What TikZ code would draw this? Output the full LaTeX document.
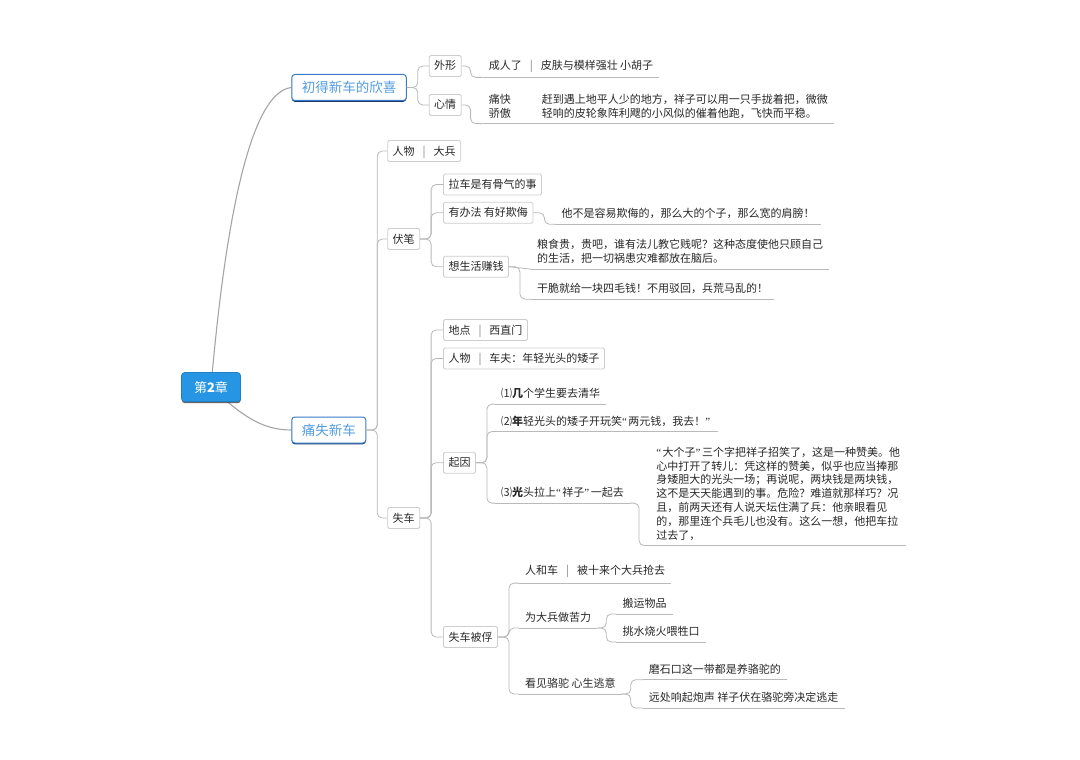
\documentclass[tikz,border=0pt]{standalone}
\usepackage{fontspec}
\setmainfont{Noto Sans CJK SC}
\newfontfamily\quotefont{Liberation Serif}
\usetikzlibrary{positioning, shadows, backgrounds}

\definecolor{rootblue}{RGB}{38,150,228}
\definecolor{branchblue}{RGB}{58,122,200}
\definecolor{branchtext}{RGB}{84,156,224}
\definecolor{shadenavy}{RGB}{28,58,104}
\definecolor{linegray}{RGB}{185,185,185}
\definecolor{trunkgray}{RGB}{165,165,165}
\definecolor{boxgray}{RGB}{205,205,205}
\definecolor{inkgray}{RGB}{40,40,40}

\newcommand{\bardiv}{\hspace{8pt}{\color{gray}|}\hspace{8pt}}
\newcommand{\openq}{{\quotefont “}\hspace{1.5pt}}
\newcommand{\closeq}{{\quotefont ”}\hspace{1.5pt}}

\begin{document}
\begin{tikzpicture}[
    x=1pt, y=-1pt,
    font=\fontsize{11}{14}\selectfont,
    text=inkgray,
    root/.style={
        fill=rootblue,
        draw=rootblue!85!black,
        line width=0.6pt,
        text=white,
        rounded corners=3pt,
        minimum width=59pt,
        minimum height=29pt,
        font=\fontsize{13}{15}\selectfont,
        drop shadow={shadow xshift=0.3pt, shadow yshift=-1.6pt, fill=black!75, opacity=0.8}
    },
    mainbranch/.style={
        fill=white,
        draw=branchblue,
        line width=1pt,
        rounded corners=3pt,
        text=branchtext,
        font=\fontsize{13.5}{16}\selectfont,
        inner xsep=10pt,
        minimum height=26pt,
        drop shadow={shadow xshift=0pt, shadow yshift=-1.3pt, fill=shadenavy, opacity=1}
    },
    topic/.style={
        fill=white,
        draw=boxgray,
        line width=0.8pt,
        rounded corners=1.5pt,
        inner xsep=5pt,
        inner ysep=5pt,
        text height=9.5pt,
        text depth=1.5pt
    },
    leaf/.style={
        inner xsep=6pt,
        inner ysep=5pt,
        align=left,
        append after command={(\tikzlastnode.south west) edge[uline] (\tikzlastnode.south east)}
    },
    uline/.style={draw=linegray, line width=0.8pt},
    link/.style={draw=linegray, line width=0.8pt},
    trunk/.style={draw=trunkgray, line width=1.1pt},
    elbow/.style={rounded corners=5pt, to path={-- ++(#1,0) |- (\tikztotarget)}},
    elbow/.default=11pt
]
\useasboundingbox (0,0) rectangle (1080,760);

% centre and main branches
\node[root] (R) at (211,387) {第\textbf{2}章};
\node[mainbranch, right=50.5pt of R, yshift=299.5pt] (joy) {初得新车的欣喜};
\node[mainbranch, right=50.5pt of R, yshift=-43pt] (loss) {痛失新车};

% first branch
\node[topic, right=22pt of joy, yshift=21.5pt] (look) {外形};
\node[topic, right=22pt of joy, yshift=-17.5pt] (mood) {心情};
\node[leaf, right=21pt of look] (lookL) {成人了\bardiv 皮肤与模样强壮 小胡子};
\node[leaf, inner ysep=2pt, right=21pt of mood, yshift=-2.4pt] (moodL)
    {\begin{tabular}{@{}l@{\hspace{31pt}}l@{}}
     痛快 & 赶到遇上地平人少的地方，祥子可以用一只手拢着把，微微\\
     骄傲 & 轻响的皮轮象阵利飕的小风似的催着他跑，飞快而平稳。
     \end{tabular}};

% second branch
\node[topic, right=21pt of loss, yshift=279pt] (soldier) {人物\bardiv 大兵};
\node[topic, right=21pt of loss, yshift=191pt] (hint) {伏笔};
\node[topic, right=21pt of loss, yshift=-88pt] (lost) {失车};

% hints
\node[topic, right=23pt of hint, yshift=54.5pt] (pull) {拉车是有骨气的事};
\node[topic, right=23pt of hint, yshift=26.2pt] (tough) {有办法 有好欺侮};
\node[topic, right=23pt of hint, yshift=-27.7pt] (earn) {想生活赚钱};
\node[leaf, right=22pt of tough, yshift=-1pt] (toughL) {他不是容易欺侮的，那么大的个子，那么宽的肩膀！};
\node[leaf, right=22pt of earn, yshift=15pt] (earnA)
    {粮食贵，贵吧，谁有法儿教它贱呢？这种态度使他只顾自己\\的生活，把一切祸患灾难都放在脑后。};
\node[leaf, right=22pt of earn, yshift=-22pt] (earnB) {干脆就给一块四毛钱！不用驳回，兵荒马乱的！};

% losing the rickshaw
\node[topic, right=23pt of lost, yshift=188pt] (place) {地点\bardiv 西直门};
\node[topic, right=23pt of lost, yshift=159.5pt] (driver) {人物\bardiv 车夫：年轻光头的矮子};
\node[topic, right=23pt of lost, yshift=55.3pt] (cause) {起因};
\node[topic, right=23pt of lost, yshift=-119pt] (seized) {失车被俘};

\node[leaf, right=19pt of cause, yshift=69pt] (c1) {⑴\textbf{几}个学生要去清华};
\node[leaf, right=19pt of cause, yshift=41.7pt] (c2) {⑵\textbf{年}轻光头的矮子开玩笑\openq 两元钱，我去！\closeq};
\node[leaf, right=19pt of cause, yshift=-30pt] (c3) {⑶\textbf{光}头拉上\openq 祥子\closeq 一起去};
\node[leaf, font=\fontsize{11}{13.8}\selectfont, right=20pt of c3, yshift=-1pt] (c3L)
    {\openq 大个子\closeq 三个字把祥子招笑了，这是一种赞美。他\\
     心中打开了转儿：凭这样的赞美，似乎也应当捧那\\
     身矮胆大的光头一场；再说呢，两块钱是两块钱，\\
     这不是天天能遇到的事。危险？难道就那样巧？况\\
     且，前两天还有人说天坛住满了兵：他亲眼看见\\
     的，那里连个兵毛儿也没有。这么一想，他把车拉\\
     过去了，};

\node[leaf, right=21pt of seized, yshift=65.3pt] (s1) {人和车\bardiv 被十来个大兵抢去};
\node[leaf, right=21pt of seized, yshift=19.3pt] (s2) {为大兵做苦力};
\node[leaf, right=21pt of seized, yshift=-46.7pt] (s3) {看见骆驼 心生逃意};
\node[leaf, right=19pt of s2, yshift=14pt] (s2a) {搬运物品};
\node[leaf, right=19pt of s2, yshift=-14pt] (s2b) {挑水烧火喂牲口};
\node[leaf, right=21pt of s3, yshift=14.4pt] (s3a) {磨石口这一带都是养骆驼的};
\node[leaf, right=21pt of s3, yshift=-14pt] (s3b) {远处响起炮声 祥子伏在骆驼旁决定逃走};

% links from the centre
\begin{scope}[on background layer]
\fill[white] (0,0) rectangle (1080,760);
\draw[trunk] (R.center) .. controls +(12,-140) and +(-45,5) .. (joy.west);
\draw[trunk] (R.center) .. controls +(30,28) and +(-30,0) .. (loss.west);
\end{scope}

% links
\path[link]
(joy.east) edge[elbow] (look.west)
           edge[elbow] (mood.west)
(look.east) edge[elbow=9pt] (lookL.south west)
(mood.east) edge[elbow=9pt] (moodL.south west)

(loss.east) edge[elbow] (soldier.west)
            edge[elbow] (hint.west)
            edge[elbow] (lost.west)

(hint.east) edge[elbow] (pull.west)
            edge[elbow] (tough.west)
            edge[elbow] (earn.west)
(tough.east) edge[elbow] (toughL.south west)
(earn.east) edge (earnA.south west)
            edge[elbow] (earnB.south west)

(lost.east) edge[elbow] (place.west)
            edge[elbow] (driver.west)
            edge[elbow] (cause.west)
            edge[elbow] (seized.west)
(cause.east) edge[elbow] (c1.south west)
             edge[elbow] (c2.south west)
             edge[elbow] (c3.south west)
(c3.south east) edge[elbow=9pt] (c3L.south west)

(seized.east) edge[elbow] (s1.south west)
              edge[elbow] (s2.south west)
              edge[elbow] (s3.south west)
(s2.south east) edge[elbow=9pt] (s2a.south west)
                edge[elbow=9pt] (s2b.south west)
(s3.south east) edge[elbow=9pt] (s3a.south west)
                edge[elbow=9pt] (s3b.south west);
\end{tikzpicture}
\end{document}
